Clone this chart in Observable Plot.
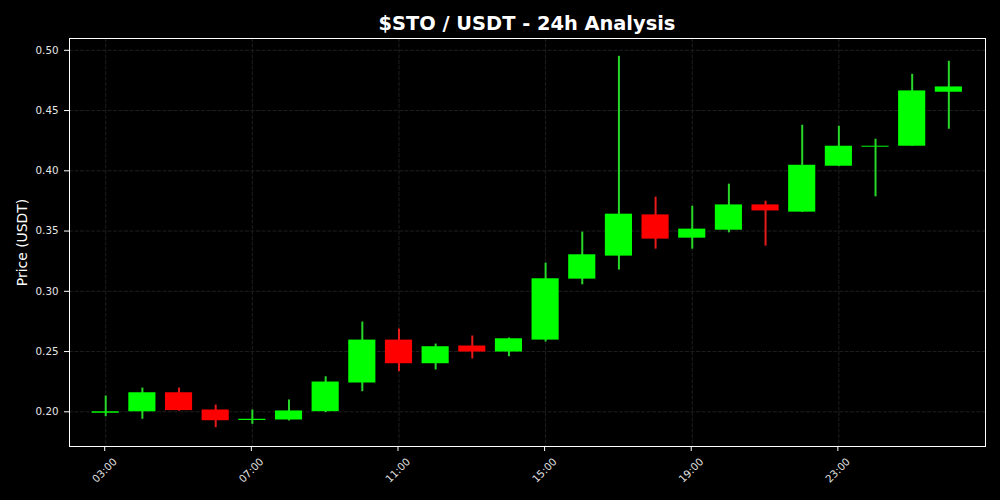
<!DOCTYPE html>
<html><head><meta charset="utf-8">
<script src="https://cdn.jsdelivr.net/npm/d3@7"></script>
<script src="https://cdn.jsdelivr.net/npm/@observablehq/plot@0.6"></script>
<style>
html,body{margin:0;padding:0;background:#000;}
#wrap{width:1000px;height:500px;background:#000;overflow:hidden;}
#title{height:30px;box-sizing:border-box;padding-top:13px;line-height:22.6px;margin-left:69px;width:916px;text-align:center;color:#fff;font-weight:bold;font-size:19.4px;font-family:"DejaVu Sans";white-space:nowrap;}
#chart svg{display:block;}
</style></head><body>
<div id="wrap"><div id="title">$STO / USDT - 24h Analysis</div><div id="chart"></div></div>
<script>
const times = ["03:00","04:00","05:00","06:00","07:00","08:00","09:00","10:00","11:00","12:00","13:00","14:00","15:00","16:00","17:00","18:00","19:00","20:00","21:00","22:00","23:00","00:00","01:00","02:00"];
const open  = [0.1988,0.2000,0.2158,0.2015,0.1928,0.1932,0.2001,0.2239,0.2595,0.2399,0.2546,0.2496,0.2595,0.3101,0.3292,0.3634,0.3441,0.3507,0.3717,0.3657,0.4038,0.4196,0.4204,0.4652];
const high  = [0.2131,0.2197,0.2197,0.2056,0.2015,0.2098,0.2291,0.2745,0.2687,0.2562,0.2629,0.2612,0.3234,0.3491,0.4950,0.3781,0.3706,0.3889,0.3748,0.4378,0.4370,0.4262,0.4801,0.4909];
const low   = [0.1959,0.1938,0.2005,0.1868,0.1896,0.1924,0.1993,0.2167,0.2333,0.2347,0.2438,0.2457,0.2579,0.3054,0.3176,0.3350,0.3350,0.3485,0.3375,0.3655,0.4035,0.3784,0.4204,0.4345];
const close = [0.2000,0.2158,0.2010,0.1926,0.1938,0.2007,0.2247,0.2595,0.2399,0.2540,0.2496,0.2606,0.3104,0.3303,0.3640,0.3433,0.3516,0.3717,0.3667,0.4046,0.4204,0.4204,0.4663,0.4696];
const yTicks = [0.20,0.25,0.30,0.35,0.40,0.45,0.50];
const xTickLabels = ["03:00","07:00","11:00","15:00","19:00","23:00"];
const yLabel = "Price (USDT)";

const upBody = "#00ff00", downBody = "#ff0000";
const upWick = "#28d828", downWick = "#e81a1a";
const data = times.map((t, i) => ({i, t, open: open[i], high: high[i], low: low[i], close: close[i]}));
const isUp = d => d.close >= d.open;
const xTicks = xTickLabels.map(l => times.indexOf(l));
const halfW = 0.37;

const chart = Plot.plot({
  width: 1000, height: 470,
  marginTop: 8, marginLeft: 69, marginRight: 15, marginBottom: 54,
  style: {background: "#000", color: "#e6e6e6", fontFamily: "DejaVu Sans", fontSize: "10.3px"},
  x: {domain: [-0.988, 24.0]},
  y: {domain: [0.1712, 0.5098]},
  color: {type: "identity"},
  marks: [
    Plot.gridY(yTicks, {stroke: "#1e1e1e", strokeOpacity: 1, strokeDasharray: "4,1.5"}),
    Plot.gridX(xTicks, {stroke: "#1e1e1e", strokeOpacity: 1, strokeDasharray: "4,1.5"}),
    Plot.ruleX(data, {x: "i", y1: "low", y2: "high", stroke: d => isUp(d) ? upWick : downWick, strokeWidth: 2}),
    Plot.rect(data, {x1: d => d.i - halfW, x2: d => d.i + halfW, y1: "open", y2: "close", fill: d => isUp(d) ? upBody : downBody}),
    Plot.axisY(yTicks, {tickSize: 5, tickPadding: 6, tickFormat: d3.format(".2f"), stroke: "#fff", fill: "#e6e6e6", label: null}),
    Plot.axisX(xTicks, {tickSize: 5, tickPadding: 19, tickFormat: i => times[i], tickRotate: -45, textAnchor: "middle", lineAnchor: "middle", dx: -1, stroke: "#fff", fill: "#e6e6e6", label: null}),
    Plot.text([yLabel], {frameAnchor: "left", rotate: -90, dx: -47, fontSize: 13.9, fill: "#fff", textAnchor: "middle", lineAnchor: "middle"}),
    Plot.frame({stroke: "#fff"})
  ]
});
document.getElementById("chart").appendChild(chart);
</script>
</body></html>
